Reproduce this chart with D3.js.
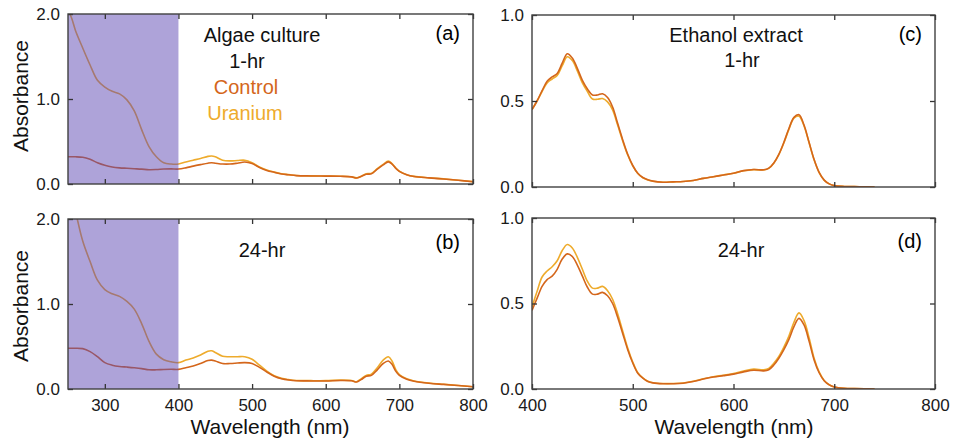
<!DOCTYPE html>
<html>
<head>
<meta charset="utf-8">
<script src="https://cdn.jsdelivr.net/npm/d3@7"></script>
<style>
  body { margin: 0; background: #fff; }
  svg text { font-family: "Liberation Sans", Arial, sans-serif; }
</style>
</head>
<body>
<div id="app"></div>
<script>
const W = 957, H = 443;
const CONTROL = "#d4661b";
const URANIUM = "#eeab2c";

// algae culture spectra (a, b)
const algaeWavelengths = [250,255,260,270,280,290,300,310,320,330,340,350,360,370,380,390,400,410,420,430,440,445,450,460,470,480,490,500,510,520,530,540,550,560,580,600,620,635,642,648,655,662,670,678,685,690,695,700,710,720,740,760,780,800];
const algae1hControl = [0.32,0.32,0.32,0.315,0.29,0.25,0.22,0.20,0.19,0.185,0.18,0.175,0.168,0.17,0.176,0.178,0.176,0.19,0.21,0.228,0.245,0.25,0.245,0.235,0.235,0.245,0.258,0.24,0.195,0.16,0.138,0.118,0.108,0.099,0.095,0.093,0.091,0.084,0.07,0.088,0.115,0.12,0.175,0.225,0.26,0.235,0.185,0.148,0.108,0.088,0.072,0.059,0.044,0.027];
const algae1hUranium = [2.05,1.95,1.81,1.60,1.40,1.22,1.14,1.09,1.06,0.99,0.86,0.64,0.44,0.32,0.25,0.235,0.235,0.26,0.28,0.30,0.325,0.33,0.32,0.28,0.272,0.276,0.28,0.25,0.20,0.165,0.14,0.12,0.11,0.10,0.096,0.094,0.092,0.085,0.072,0.09,0.12,0.125,0.18,0.23,0.27,0.24,0.19,0.15,0.11,0.09,0.073,0.06,0.045,0.028];
const algae24hControl = [0.48,0.48,0.48,0.475,0.44,0.38,0.31,0.28,0.265,0.258,0.25,0.24,0.226,0.226,0.23,0.232,0.231,0.25,0.27,0.30,0.335,0.34,0.33,0.30,0.30,0.305,0.31,0.30,0.255,0.20,0.15,0.12,0.105,0.097,0.095,0.095,0.10,0.097,0.083,0.11,0.15,0.16,0.225,0.30,0.33,0.29,0.21,0.16,0.115,0.092,0.068,0.054,0.041,0.026];
const algae24hUranium = [2.4,2.3,2.1,1.74,1.50,1.28,1.17,1.12,1.09,1.03,0.94,0.77,0.56,0.41,0.345,0.32,0.31,0.34,0.365,0.40,0.445,0.45,0.43,0.385,0.38,0.38,0.38,0.35,0.28,0.21,0.155,0.125,0.11,0.10,0.098,0.098,0.104,0.10,0.086,0.12,0.16,0.175,0.25,0.34,0.38,0.33,0.23,0.17,0.12,0.095,0.07,0.055,0.042,0.027];

// ethanol extract spectra (c, d)
const ethanolWavelengths = [400,405,410,415,420,425,430,435,440,445,450,455,460,465,470,475,480,485,490,495,500,505,510,515,520,530,540,550,560,570,580,590,600,610,620,630,635,640,645,650,655,660,665,670,675,680,685,690,695,700,710,720,730,740];
const ethanol1hControl = [0.45,0.50,0.56,0.615,0.64,0.66,0.72,0.775,0.75,0.69,0.62,0.57,0.535,0.535,0.542,0.52,0.465,0.37,0.275,0.19,0.125,0.08,0.055,0.042,0.034,0.028,0.03,0.032,0.038,0.05,0.06,0.07,0.08,0.095,0.102,0.10,0.11,0.14,0.19,0.26,0.34,0.405,0.42,0.36,0.26,0.16,0.085,0.04,0.018,0.008,0.003,0.002,0.001,0];
const ethanol1hUranium = [0.45,0.50,0.555,0.605,0.628,0.648,0.705,0.757,0.735,0.675,0.605,0.555,0.512,0.51,0.514,0.495,0.448,0.36,0.268,0.186,0.123,0.079,0.054,0.041,0.033,0.028,0.03,0.032,0.038,0.05,0.06,0.07,0.08,0.094,0.101,0.099,0.108,0.138,0.188,0.256,0.335,0.40,0.412,0.355,0.257,0.158,0.084,0.04,0.018,0.008,0.003,0.002,0.001,0];
const ethanol24hControl = [0.46,0.53,0.60,0.64,0.66,0.70,0.76,0.79,0.775,0.725,0.66,0.595,0.555,0.555,0.565,0.545,0.50,0.42,0.325,0.23,0.152,0.092,0.063,0.044,0.036,0.031,0.031,0.034,0.044,0.058,0.07,0.078,0.087,0.10,0.11,0.106,0.113,0.14,0.18,0.23,0.29,0.365,0.413,0.375,0.28,0.17,0.095,0.048,0.024,0.012,0.004,0.002,0.001,0];
const ethanol24hUranium = [0.48,0.57,0.655,0.69,0.715,0.75,0.81,0.845,0.825,0.77,0.70,0.63,0.59,0.59,0.60,0.575,0.525,0.44,0.34,0.24,0.158,0.095,0.065,0.045,0.037,0.032,0.032,0.035,0.045,0.06,0.072,0.08,0.09,0.105,0.116,0.112,0.12,0.15,0.19,0.245,0.31,0.39,0.445,0.40,0.30,0.18,0.10,0.05,0.025,0.012,0.004,0.002,0.001,0];

const algaeXTicks = [300,400,500,600,700,800];
const ethanolXTicks = [400,500,600,700,800];
const algaeYTicks = [0,1,2];
const ethanolYTicks = [0,0.5,1];

const panels = [
  { id: "a", box: [68, 473, 14, 184], xDomain: [250, 800], yDomain: [0, 2],
    wl: algaeWavelengths, control: algae1hControl, uranium: algae1hUranium,
    xTicks: algaeXTicks, yTicks: algaeYTicks, xLabels: false, shade: [250, 400] },
  { id: "b", box: [68, 473, 219, 389], xDomain: [250, 800], yDomain: [0, 2],
    wl: algaeWavelengths, control: algae24hControl, uranium: algae24hUranium,
    xTicks: algaeXTicks, yTicks: algaeYTicks, xLabels: true, shade: [250, 400] },
  { id: "c", box: [532, 935, 15, 187], xDomain: [400, 800], yDomain: [0, 1],
    wl: ethanolWavelengths, control: ethanol1hControl, uranium: ethanol1hUranium,
    xTicks: ethanolXTicks, yTicks: ethanolYTicks, xLabels: false },
  { id: "d", box: [532, 935, 218, 389], xDomain: [400, 800], yDomain: [0, 1],
    wl: ethanolWavelengths, control: ethanol24hControl, uranium: ethanol24hUranium,
    xTicks: ethanolXTicks, yTicks: ethanolYTicks, xLabels: true },
];

const svg = d3.select('#app')
  .append('svg')
  .attr('width', W)
  .attr('height', H);

svg.append('rect').attr('width', W).attr('height', H).attr('fill', '#fff');

const styleAxis = g => {
  g.select('.domain').remove();
  g.selectAll('.tick line').attr('stroke', '#333').attr('stroke-width', 1.3);
  g.selectAll('.tick text').attr('fill', '#1a1a1a').style('font-size', '17px');
}

const drawPanel = p => {
  const [x0, x1, y0, y1] = p.box;
  const x = d3.scaleLinear().domain(p.xDomain).range([x0, x1]);
  const y = d3.scaleLinear().domain(p.yDomain).range([y1, y0]);
  const g = svg.append('g');

  const clipId = `clip-${p.id}`;
  svg.append('clipPath').attr('id', clipId)
    .append('rect')
    .attr('x', x0).attr('y', y0)
    .attr('width', x1 - x0).attr('height', y1 - y0);

  const line = d3.line()
    .x(d => x(d[0]))
    .y(d => y(d[1]))
    .curve(d3.curveCatmullRom);

  const lines = g.append('g').attr('clip-path', `url(#${clipId})`);
  lines.append('path')
    .datum(d3.zip(p.wl, p.uranium))
    .attr('fill', 'none').attr('stroke', URANIUM).attr('stroke-width', 1.6)
    .attr('d', line);
  lines.append('path')
    .datum(d3.zip(p.wl, p.control))
    .attr('fill', 'none').attr('stroke', CONTROL).attr('stroke-width', 1.6)
    .attr('d', line);

  if (p.shade) {
    g.append('rect')
      .attr('x', x(p.shade[0])).attr('y', y0)
      .attr('width', x(p.shade[1]) - x(p.shade[0]))
      .attr('height', y1 - y0)
      .attr('fill', 'rgb(93,71,179)')
      .attr('fill-opacity', 0.5);
  }

  // ticks on all four sides, pointing inward
  g.append('g')
    .attr('transform', `translate(0, ${y1})`)
    .call(d3.axisBottom(x).tickValues(p.xTicks).tickSizeInner(-5).tickSizeOuter(0)
      .tickPadding(10).tickFormat(p.xLabels ? d3.format('d') : () => ''))
    .call(styleAxis);
  g.append('g')
    .attr('transform', `translate(0, ${y0})`)
    .call(d3.axisTop(x).tickValues(p.xTicks).tickSizeInner(-5).tickSizeOuter(0).tickFormat(() => ''))
    .call(styleAxis);
  g.append('g')
    .attr('transform', `translate(${x0}, 0)`)
    .call(d3.axisLeft(y).tickValues(p.yTicks).tickSizeInner(-5).tickSizeOuter(0)
      .tickPadding(8).tickFormat(d3.format('.1f')))
    .call(styleAxis);
  g.append('g')
    .attr('transform', `translate(${x1}, 0)`)
    .call(d3.axisRight(y).tickValues(p.yTicks).tickSizeInner(-5).tickSizeOuter(0).tickFormat(() => ''))
    .call(styleAxis);

  g.append('rect')
    .attr('x', x0).attr('y', y0)
    .attr('width', x1 - x0).attr('height', y1 - y0)
    .attr('fill', 'none').attr('stroke', '#404040').attr('stroke-width', 1.4);

  g.append('text')
    .attr('x', x1 - 13).attr('y', y0 + (p.id === 'a' || p.id === 'c' ? 26 : 30))
    .attr('text-anchor', 'end')
    .style('font-size', '20px')
    .text(`(${p.id})`);
}

panels.forEach(drawPanel);

const label = (txt, xPos, yPos, color = '#111') =>
  svg.append('text')
    .attr('x', xPos).attr('y', yPos)
    .attr('text-anchor', 'middle')
    .attr('fill', color)
    .style('font-size', '20px')
    .text(txt);

label('Algae culture', 262, 42);
label('1-hr', 247, 68);
label('Control', 246, 94, CONTROL);
label('Uranium', 245, 120, URANIUM);
label('24-hr', 262, 257);
label('Ethanol extract', 736, 42);
label('1-hr', 742, 67);
label('24-hr', 741, 257);

[96, 306].forEach(cy => {
  svg.append('text')
    .attr('transform', `translate(28, ${cy}) rotate(-90)`)
    .attr('text-anchor', 'middle')
    .attr('fill', '#111')
    .style('font-size', '21px')
    .text('Absorbance');
});

[270, 734].forEach(cx => {
  svg.append('text')
    .attr('x', cx).attr('y', 434)
    .attr('text-anchor', 'middle')
    .attr('fill', '#111')
    .style('font-size', '21px')
    .text('Wavelength (nm)');
});
</script>
</body>
</html>
